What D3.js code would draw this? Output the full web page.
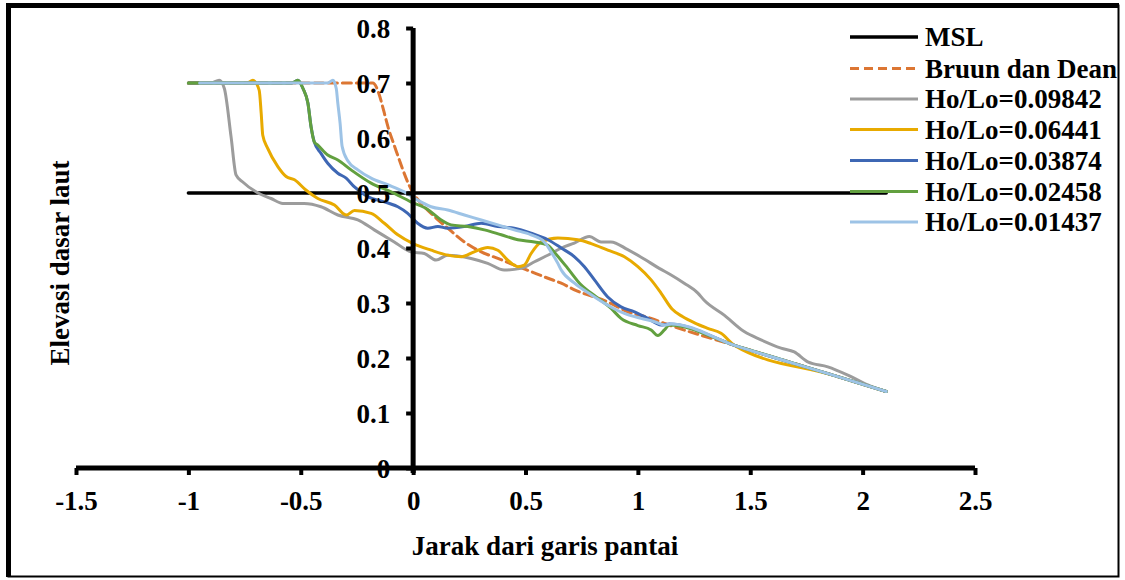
<!DOCTYPE html>
<html>
<head>
<meta charset="utf-8">
<script src="https://cdn.jsdelivr.net/npm/d3@7"></script>
<style>
  html, body { margin: 0; padding: 0; background: #fff; }
  svg text { font-family: "Liberation Serif", "Times New Roman", serif; font-weight: bold; fill: #000; }
</style>
</head>
<body>
<svg id="chart" width="1125" height="580"></svg>
<script>
// ---- data ----
const xTicks = [-1.5, -1, -0.5, 0, 0.5, 1, 1.5, 2, 2.5];
const yTicks = [0, 0.1, 0.2, 0.3, 0.4, 0.5, 0.6, 0.7, 0.8];

const msl = [[-1, 0.5], [2.105, 0.5]];

const bruun = [[-1, 0.7], [-0.18, 0.7], [-0.1, 0.605], [0, 0.5], [0.05, 0.475], [0.095, 0.457],
  [0.154, 0.436], [0.228, 0.411], [0.303, 0.393], [0.377, 0.381], [0.45, 0.369], [0.525, 0.357],
  [0.6, 0.345], [0.659, 0.336], [0.718, 0.324], [0.866, 0.302], [0.955, 0.284], [1.059, 0.272],
  [1.118, 0.263], [1.43, 0.223], [1.875, 0.168], [2.105, 0.139]];

const h09842 = [[-1, 0.7], [-0.9, 0.7], [-0.863, 0.705], [-0.84, 0.69], [-0.81, 0.602], [-0.788, 0.533],
  [-0.758, 0.52], [-0.69, 0.5], [-0.632, 0.49], [-0.58, 0.481], [-0.485, 0.481], [-0.41, 0.475],
  [-0.335, 0.46], [-0.246, 0.451], [-0.173, 0.433], [-0.084, 0.411], [-0.01, 0.393], [0.05, 0.39],
  [0.102, 0.378], [0.154, 0.387], [0.258, 0.381], [0.332, 0.372], [0.405, 0.36], [0.48, 0.363],
  [0.54, 0.375], [0.614, 0.39], [0.66, 0.4], [0.717, 0.409], [0.784, 0.421], [0.836, 0.411],
  [0.88, 0.411], [0.955, 0.397], [1.028, 0.38], [1.095, 0.363], [1.148, 0.351], [1.206, 0.336],
  [1.267, 0.318], [1.295, 0.305], [1.384, 0.278], [1.473, 0.248], [1.548, 0.233], [1.637, 0.218],
  [1.696, 0.211], [1.756, 0.193], [1.845, 0.184], [1.934, 0.169], [2.023, 0.151], [2.105, 0.139]];

const h06441 = [[-1, 0.7], [-0.74, 0.7], [-0.713, 0.705], [-0.685, 0.687], [-0.676, 0.645], [-0.669, 0.605],
  [-0.647, 0.581], [-0.602, 0.548], [-0.565, 0.53], [-0.528, 0.524], [-0.476, 0.505], [-0.424, 0.49],
  [-0.35, 0.478], [-0.298, 0.46], [-0.261, 0.468], [-0.187, 0.463], [-0.128, 0.445], [-0.068, 0.424],
  [0, 0.408], [0.08, 0.396], [0.154, 0.387], [0.214, 0.384], [0.272, 0.393], [0.332, 0.401],
  [0.377, 0.396], [0.421, 0.378], [0.466, 0.366], [0.495, 0.369], [0.525, 0.39], [0.57, 0.411],
  [0.644, 0.418], [0.733, 0.415], [0.792, 0.408], [0.866, 0.396], [0.94, 0.384], [1.0, 0.366],
  [1.059, 0.342], [1.103, 0.318], [1.152, 0.289], [1.2, 0.275], [1.252, 0.264], [1.311, 0.254],
  [1.37, 0.245], [1.43, 0.223], [1.875, 0.168], [2.105, 0.139]];

const h03874 = [[-1, 0.7], [-0.54, 0.7], [-0.513, 0.705], [-0.49, 0.69], [-0.468, 0.663], [-0.454, 0.62],
  [-0.44, 0.593], [-0.41, 0.572], [-0.38, 0.554], [-0.335, 0.536], [-0.298, 0.527], [-0.261, 0.511],
  [-0.2, 0.493], [-0.128, 0.484], [-0.068, 0.475], [-0.024, 0.463], [0.02, 0.445], [0.065, 0.436],
  [0.11, 0.439], [0.154, 0.436], [0.228, 0.439], [0.303, 0.445], [0.377, 0.439], [0.45, 0.436],
  [0.525, 0.427], [0.6, 0.415], [0.659, 0.4], [0.718, 0.384], [0.762, 0.366], [0.807, 0.342],
  [0.866, 0.311], [0.925, 0.293], [0.985, 0.284], [1.044, 0.272], [1.103, 0.26], [1.14, 0.262],
  [1.43, 0.223], [1.875, 0.168], [2.105, 0.139]];

const h02458 = [[-1, 0.7], [-0.54, 0.7], [-0.513, 0.705], [-0.49, 0.69], [-0.468, 0.663], [-0.454, 0.62],
  [-0.44, 0.593], [-0.424, 0.587], [-0.38, 0.569], [-0.335, 0.56], [-0.276, 0.542], [-0.187, 0.518],
  [-0.098, 0.502], [-0.01, 0.484], [0.065, 0.47], [0.125, 0.451], [0.169, 0.442], [0.243, 0.439],
  [0.317, 0.433], [0.392, 0.424], [0.466, 0.415], [0.54, 0.411], [0.6, 0.405], [0.629, 0.392],
  [0.688, 0.363], [0.747, 0.333], [0.815, 0.311], [0.881, 0.29], [0.925, 0.272], [1.0, 0.259],
  [1.059, 0.251], [1.089, 0.241], [1.118, 0.251], [1.14, 0.26], [1.43, 0.223], [1.875, 0.168],
  [2.105, 0.139]];

const h01437 = [[-0.95, 0.7], [-0.38, 0.7], [-0.357, 0.705], [-0.342, 0.69], [-0.335, 0.663],
  [-0.325, 0.627], [-0.316, 0.585], [-0.29, 0.558], [-0.246, 0.542], [-0.187, 0.527], [-0.113, 0.515],
  [-0.039, 0.502], [0.02, 0.487], [0.08, 0.475], [0.154, 0.469], [0.228, 0.46], [0.303, 0.451],
  [0.377, 0.442], [0.45, 0.433], [0.525, 0.424], [0.584, 0.411], [0.614, 0.393], [0.644, 0.372],
  [0.659, 0.36], [0.718, 0.336], [0.792, 0.315], [0.866, 0.296], [0.94, 0.281], [1.014, 0.272],
  [1.074, 0.266], [1.118, 0.26], [1.148, 0.262], [1.43, 0.223], [1.875, 0.168], [2.105, 0.139]];

const seriesNames = ["MSL", "Bruun dan Dean", "Ho/Lo=0.09842", "Ho/Lo=0.06441", "Ho/Lo=0.03874", "Ho/Lo=0.02458", "Ho/Lo=0.01437"];
const seriesData = [msl, bruun, h09842, h06441, h03874, h02458, h01437];
const seriesColors = ["#000000", "#DC7633", "#9C9C9C", "#E8AA00", "#3E67B4", "#62A03F", "#9DC3E6"];

// ---- layout ----
const svg = d3.select("#chart");
const x = d3.scaleLinear().domain([-1.5, 2.5]).range([76, 975]);
const y = d3.scaleLinear().domain([0, 0.8]).range([468, 28]);

// frame
svg.append("rect").attr("x", 8.5).attr("y", 5.5).attr("width", 1110).attr("height", 571)
  .attr("fill", "none").attr("stroke", "#000").attr("stroke-width", 2);
svg.append("line").attr("x1", 8.5).attr("x2", 8.5).attr("y1", 3).attr("y2", 577)
  .attr("stroke", "#000").attr("stroke-width", 5);
svg.append("line").attr("x1", 6).attr("x2", 1119).attr("y1", 5.5).attr("y2", 5.5)
  .attr("stroke", "#000").attr("stroke-width", 5);

// series lines (MSL straight, the rest smoothed like the spreadsheet)
const smooth = d3.line().x(d => x(d[0])).y(d => y(d[1])).curve(d3.curveMonotoneX);
const straight = d3.line().x(d => x(d[0])).y(d => y(d[1]));
const plot = svg.append("g");
seriesData.forEach((s, i) => {
  plot.append("path")
    .attr("d", i === 0 ? straight(s) : smooth(s))
    .attr("fill", "none")
    .attr("stroke", seriesColors[i])
    .attr("stroke-width", i === 0 ? 3.5 : 3)
    .attr("stroke-linejoin", "round")
    .attr("stroke-linecap", "round")
    .attr("stroke-dasharray", i === 1 ? "9,5" : null);
});

// axes (crossing at 0,0)
const fmt = d => String(d);
const xAxis = svg.append("g").attr("transform", `translate(0,${y(0)})`)
  .call(d3.axisBottom(x).tickValues(xTicks).tickSize(7).tickFormat(fmt));
const yAxis = svg.append("g").attr("transform", `translate(${x(0)},0)`)
  .call(d3.axisLeft(y).tickValues(yTicks).tickSize(7).tickFormat(fmt));
[xAxis, yAxis].forEach(a => {
  a.select(".domain").attr("stroke", "#000").attr("stroke-width", 5);
  a.selectAll(".tick line").attr("stroke", "#000").attr("stroke-width", 4);
  a.selectAll(".tick text").style("font-size", "27px")
    .style("font-family", "'Liberation Serif', 'Times New Roman', serif")
    .style("font-weight", "bold").attr("fill", "#000");
});
xAxis.select(".domain").attr("d", `M${x(-1.5)},0H${x(2.5)}`);
yAxis.select(".domain").attr("d", `M0,${y(0.8)}V${y(0) + 5}`);
xAxis.selectAll(".tick text").attr("y", 42).attr("dy", 0);
yAxis.selectAll(".tick text").attr("x", -23).attr("dy", "0.35em");

// axis titles
svg.append("text").attr("x", 545).attr("y", 555).attr("text-anchor", "middle")
  .style("font-size", "27px").text("Jarak dari garis pantai");
svg.append("text").attr("transform", "translate(69,263) rotate(-90)").attr("text-anchor", "middle")
  .style("font-size", "27px").text("Elevasi dasar laut");

// legend
const legendY = [37, 68.5, 99, 129.5, 160.5, 191.5, 222];
const legend = svg.append("g");
seriesNames.forEach((name, i) => {
  legend.append("line").attr("x1", 850).attr("x2", 918).attr("y1", legendY[i]).attr("y2", legendY[i])
    .attr("stroke", seriesColors[i]).attr("stroke-width", i === 0 ? 3.5 : 3)
    .attr("stroke-dasharray", i === 1 ? "9,5" : null);
  legend.append("text").attr("x", 925).attr("y", legendY[i]).attr("dy", "0.35em")
    .style("font-size", "27px").text(name);
});
</script>
</body>
</html>
